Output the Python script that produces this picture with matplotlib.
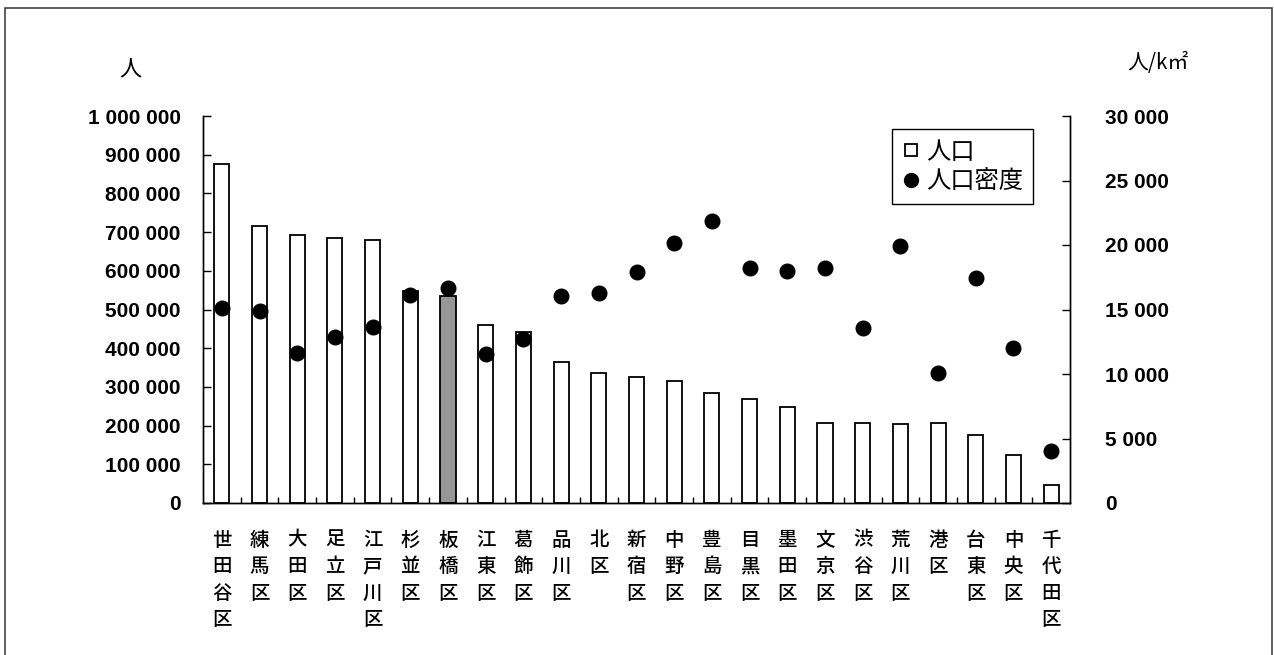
import matplotlib
matplotlib.use('Agg')
import matplotlib.pyplot as plt
from matplotlib.lines import Line2D
from matplotlib.patches import Rectangle
from matplotlib.ticker import FuncFormatter, FixedLocator

plt.rcParams['font.family'] = ['Noto Sans CJK JP', 'DejaVu Sans']

# 特別区の人口と人口密度
wards = ['世田谷区', '練馬区', '大田区', '足立区', '江戸川区', '杉並区', '板橋区',
         '江東区', '葛飾区', '品川区', '北区', '新宿区', '中野区', '豊島区',
         '目黒区', '墨田区', '文京区', '渋谷区', '荒川区', '港区', '台東区',
         '中央区', '千代田区']
population = [877000, 716000, 693000, 684000, 679000, 549000, 535000,
              460000, 443000, 364000, 335000, 326000, 315000, 285000,
              269000, 248000, 207000, 206000, 204000, 206000, 176000,
              123000, 46500]
density = [15090, 14880, 11650, 12840, 13640, 16120, 16640,
           11530, 12710, 16070, 16250, 17900, 20180, 21880,
           18240, 17980, 18240, 13540, 19920, 10050, 17420,
           12040, 4030]
highlight = '板橋区'

W, H = 1274, 655
fig = plt.figure(figsize=(W / 100, H / 100), dpi=100)
ax = fig.add_axes([203 / W, 1 - 503 / H, (1070 - 203) / W, (503 - 116) / H])
ax2 = ax.twinx()

x = list(range(len(wards)))
colors = ['#969696' if w == highlight else 'white' for w in wards]
ax.bar(x, population, width=0.4, color=colors, edgecolor='black', linewidth=1.3, zorder=2)
ax2.plot(x, density, 'o', color='black', markersize=10.5, linestyle='none', zorder=3)

ax.set_xlim(-0.5, len(wards) - 0.5)
ax.set_ylim(0, 1000000)
ax2.set_ylim(0, 30000)
ax.set_yticks(range(0, 1000001, 100000))
ax2.set_yticks(range(0, 30001, 5000))

fmt = FuncFormatter(lambda v, p: '{:,}'.format(int(v)).replace(',', ' '))
ax.yaxis.set_major_formatter(fmt)
ax2.yaxis.set_major_formatter(fmt)

numfont = dict(family=['Liberation Sans', 'DejaVu Sans'], weight='bold', size=15)
for lab in ax.get_yticklabels():
    lab.set(**numfont)
for lab in ax2.get_yticklabels():
    lab.set(**numfont)
ax.tick_params(axis='y', direction='in', length=6, width=1, pad=16)
ax2.tick_params(axis='y', direction='in', length=6, width=1, pad=25)

ax.set_xticks(x)
ax.set_xticklabels(['\n'.join(w) for w in wards], fontsize=14, linespacing=1.5,
                   va='top', fontweight='medium')
ax.tick_params(axis='x', which='major', length=0, pad=20)
ax.xaxis.set_minor_locator(FixedLocator([i + 0.5 for i in x[:-1]]))
ax.tick_params(axis='x', which='minor', direction='in', length=4, width=1)

for a in (ax, ax2):
    a.spines['top'].set_visible(False)
    for s in ('left', 'right', 'bottom'):
        a.spines[s].set_linewidth(1)
ax.set_facecolor('none')

fig.text(130 / W, 1 - 70 / H, '人', ha='center', va='center', fontsize=16)
fig.text(1158 / W, 1 - 63 / H, '人/k㎡', ha='center', va='center', fontsize=15)

handles = [Line2D([], [], marker='s', markersize=8, markerfacecolor='white',
                  markeredgecolor='black', markeredgewidth=1.3, linestyle='none'),
           Line2D([], [], marker='o', markersize=10, color='black', linestyle='none')]
leg = ax2.legend(handles, ['人口', '人口密度'], loc='upper left',
                 bbox_to_anchor=(892 / W, 1 - 129 / H), bbox_transform=fig.transFigure,
                 borderaxespad=0, fontsize=17.5, handlelength=0.8, handletextpad=0.2,
                 labelspacing=0.15, borderpad=0.4, fancybox=False, framealpha=1)
leg.get_frame().set_edgecolor('black')
leg.get_frame().set_linewidth(1)

fig.patches.append(Rectangle((5 / W, -0.02), (1272 - 5) / W, 1.02 - 8 / H,
                             transform=fig.transFigure, fill=False,
                             edgecolor='#444444', linewidth=1.2))

fig.savefig('out.png', dpi=100)
